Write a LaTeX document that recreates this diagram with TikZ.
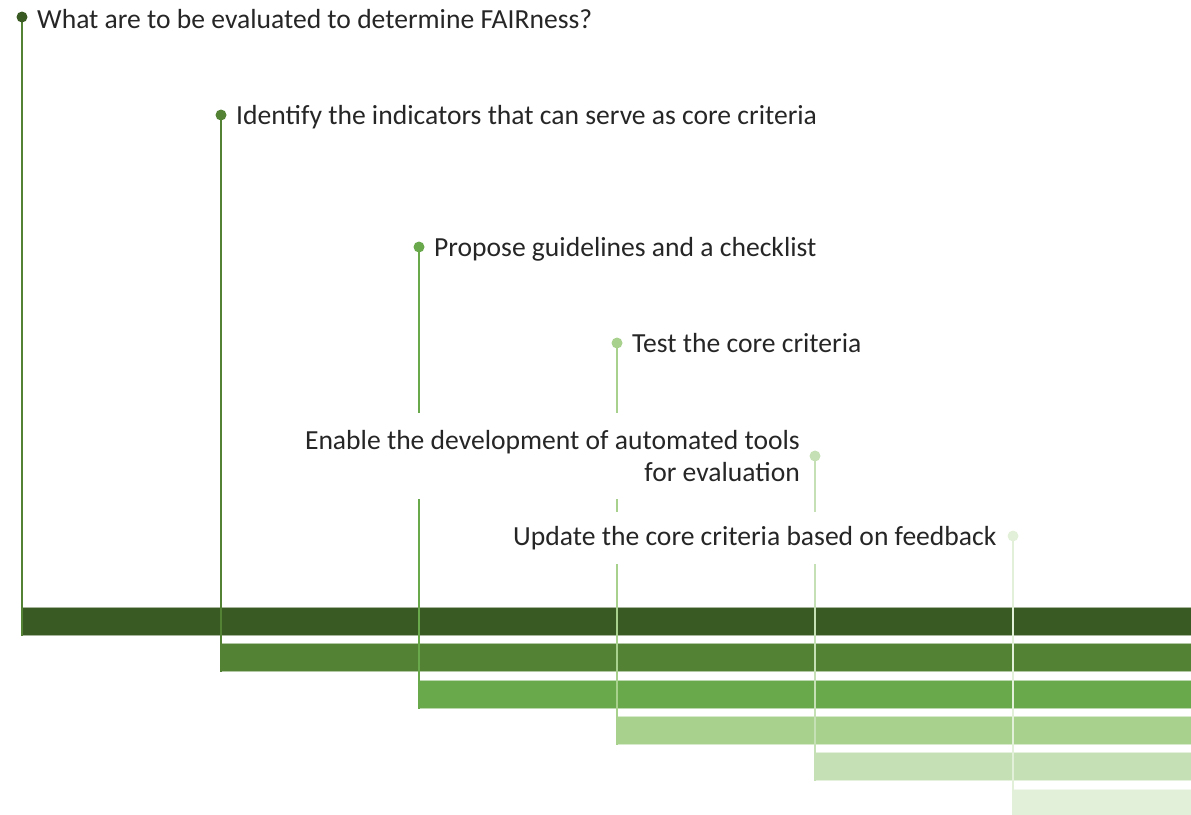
\documentclass[tikz,border=0pt]{standalone}
\usepackage{fontspec}
\setmainfont{Carlito}
\usetikzlibrary{fit,backgrounds}
\definecolor{gA}{HTML}{3A5A23}
\definecolor{gB}{HTML}{548235}
\definecolor{gC}{HTML}{6AA84C}
\definecolor{gD}{HTML}{A9D18E}
\definecolor{gE}{HTML}{C5E0B4}
\definecolor{gF}{HTML}{E2F0D9}
\definecolor{txt}{HTML}{262626}
\begin{document}
\begin{tikzpicture}[x=1pt,y=-1pt,
  lbl/.style={font=\fontsize{27.6}{32}\selectfont, inner sep=0pt, text=txt},
  dotnode/.style={circle, inner sep=0pt, minimum size=11pt, fill=#1},
  barnode/.style={fill=#1, draw=white!55!#1, line width=0.8pt, anchor=north west,
    minimum width=1190pt, minimum height=28pt, inner sep=0pt},
  stem/.style={draw=#1, line width=2.4pt},
  mask/.style={fill=white, draw=none, inner xsep=8pt}]
\useasboundingbox (0,0) rectangle (1191,814);

% dots
\node[dotnode=gA] (d1) at (22,17) {};
\node[dotnode=gB] (d2) at (221,115) {};
\node[dotnode=gC] (d3) at (419,247) {};
\node[dotnode=gD] (d4) at (617,343) {};
\node[dotnode=gE] (d5) at (815,456) {};
\node[dotnode=gF] (d6) at (1013,536) {};

% labels
\node[lbl, anchor=base west] (t1) at (37,28) {What are to be evaluated to determine FAIRness?};
\node[lbl, anchor=base west] (t2) at (236,124) {Identify the indicators that can serve as core criteria};
\node[lbl, anchor=base west] (t3) at (434,256) {Propose guidelines and a checklist};
\node[lbl, anchor=base west] (t4) at (632,352) {Test the core criteria};
\node[lbl, align=right, anchor=north east] (t5) at (800,430) {Enable the development of automated tools\\for evaluation};
\node[lbl, anchor=base west] (t6) at (513,545) {Update the core criteria based on feedback};

\begin{pgfonlayer}{background}
% bars
\node[barnode=gA] (b1) at (22,607) {};
\node[barnode=gB] (b2) at (221,643) {};
\node[barnode=gC] (b3) at (419,680) {};
\node[barnode=gD] (b4) at (617,716) {};
\node[barnode=gE] (b5) at (815,752) {};
\node[barnode=gF] (b6) at (1013,789) {};
% stems
\draw[stem=gB] (d1.center) -- (b1.south west);
\draw[stem=gB] (d2.center) -- (b2.south west);
\draw[stem=gC] (d3.center) -- (b3.south west);
\draw[stem=gD] (d4.center) -- (b4.south west);
\draw[stem=gE] (d5.center) -- (b5.south west);
\draw[stem=gF] (d6.center) -- (b6.south west);
% white boxes behind the texts
\node[mask, inner ysep=17pt, fit=(t5)] (m5) {};
\node[mask, inner ysep=14pt, fit=(t6)] (m6) {};
\end{pgfonlayer}
\end{tikzpicture}
\end{document}
